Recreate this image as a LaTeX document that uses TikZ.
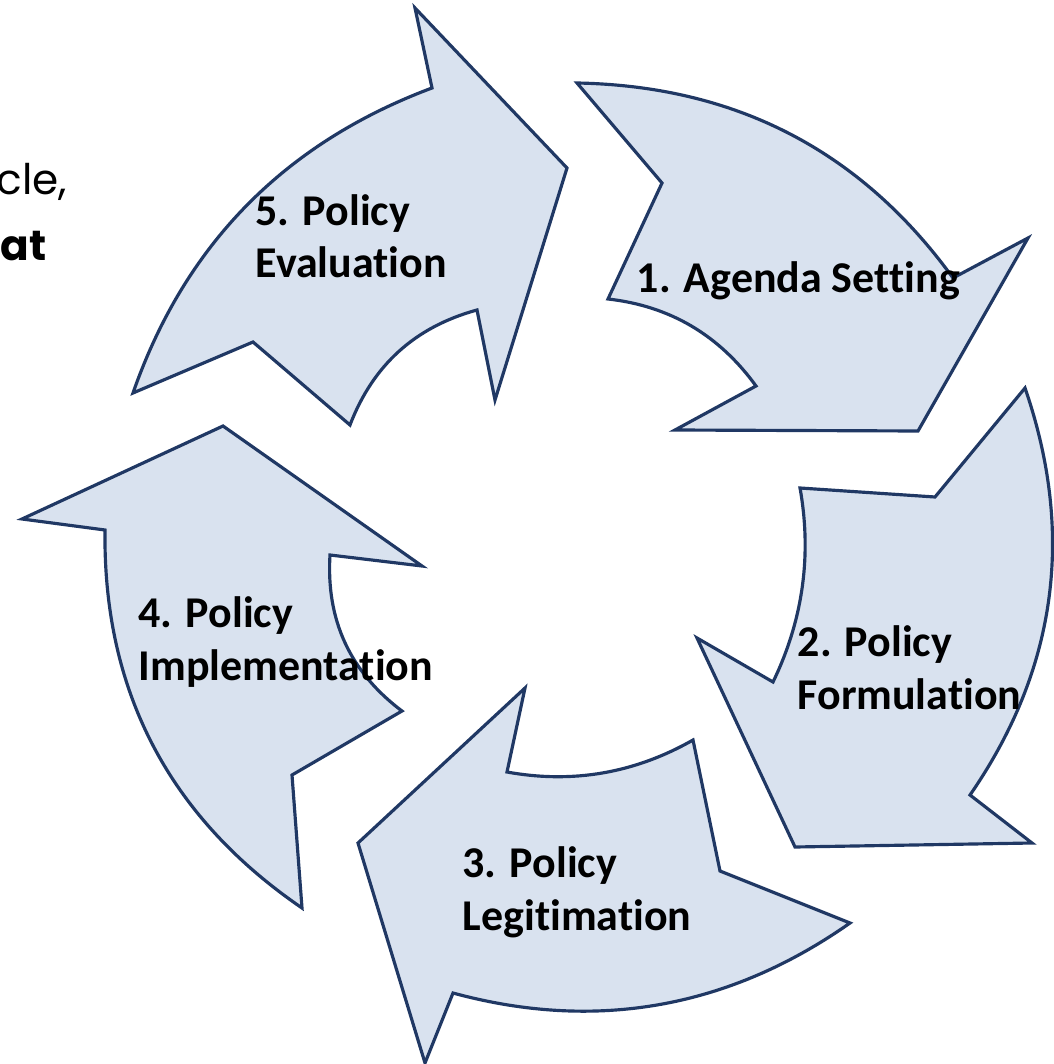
\documentclass[tikz,border=0pt]{standalone}
\usepackage{fontspec}
\setmainfont{Carlito}[Ligatures=NoCommon]
\newfontfamily\slidefont{Poppins}
\definecolor{arrowfill}{HTML}{D9E2EF}
\definecolor{arrowline}{HTML}{203864}
\begin{document}
\begin{tikzpicture}[x=0.01cm, y=-0.01cm,
    cyclearrow/.style={draw=arrowline, fill=arrowfill, line width=0.9pt},
    steptext/.style={anchor=base west, inner sep=0pt, align=left, font=\bfseries\fontsize{12.5}{15}\selectfont},
    slidetext/.style={anchor=base east, inner sep=0pt, font=\slidefont\fontsize{12}{14}\selectfont}]
  \useasboundingbox (0,0) rectangle (1053,1064);
  % the five stages, clockwise from the top
  \draw[cyclearrow] (577,83) .. controls (736,86) and (861,151) .. (953,278) -- (1028,238) -- (918,431) -- (675,430)
    -- (756,386) .. controls (719,335) and (670,306) .. (608,299) -- (662,183) -- cycle;
  \draw[cyclearrow] (1025,388) .. controls (1075,533) and (1057,669) .. (970,795) -- (1032,843) -- (795,847) -- (697,638)
    -- (773,682) .. controls (803,620) and (812,555) .. (800,488) -- (935,497) -- cycle;
  \draw[cyclearrow] (850,923) .. controls (729,1008) and (596,1032) .. (453,993) -- (425,1063) -- (358,843) -- (525,688)
    -- (507,772) .. controls (573,784) and (635,773) .. (693,740) -- (720,871) -- cycle;
  \draw[cyclearrow] (302,908) .. controls (169,817) and (103,691) .. (105,530) -- (22,519) -- (223,426) -- (422,566)
    -- (330,555) .. controls (326,620) and (350,672) .. (402,711) -- (292,775) -- cycle;
  \draw[cyclearrow] (133,393) .. controls (185,244) and (285,143) .. (432,88) -- (415,8) -- (567,168) -- (495,400)
    -- (477,310) .. controls (415,327) and (373,365) .. (350,425) -- (253,342) -- cycle;
  % labels (placed at the baseline of their last line)
  \node[steptext] (agenda) at (636,293) {1. Agenda Setting};
  \node[steptext] (formulation) at (797,709) {2. Policy\\Formulation};
  \node[steptext] (legitimation) at (462,930) {3. Policy\\Legitimation};
  \node[steptext] (implementation) at (138,680) {4. Policy\\Implementation};
  \node[steptext] (evaluation) at (255,278) {5. Policy\\Evaluation};
  % cut-off slide text
  \node[slidetext] (cycleword) at (68,195) {cle,};
  \node[slidetext, font=\slidefont\bfseries\fontsize{12}{14}\selectfont] (thatword) at (47,261) {at};
\end{tikzpicture}
\end{document}
